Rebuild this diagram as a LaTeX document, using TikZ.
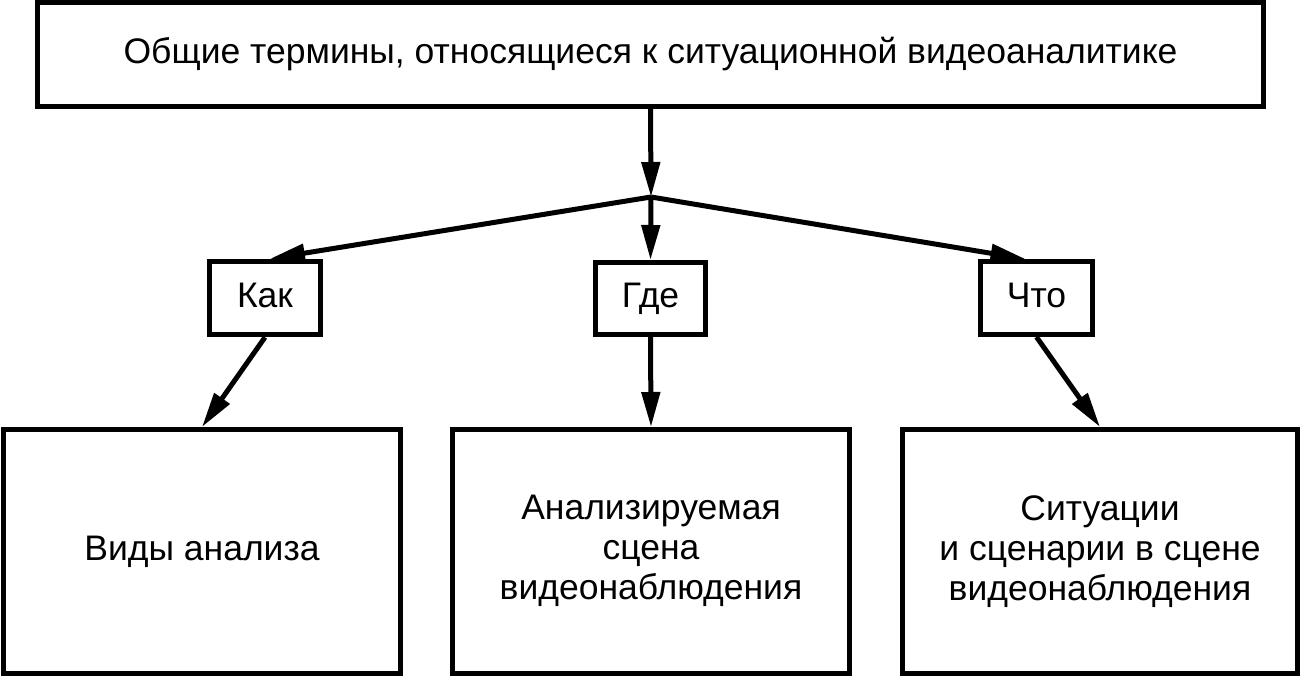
\documentclass[tikz,border=0pt]{standalone}
\usepackage{fontspec}
\setmainfont{Liberation Sans}
\usetikzlibrary{arrows.meta,calc}
\begin{document}
\begin{tikzpicture}[x=1pt,y=-1pt,
  box/.style={draw=black,line width=5pt,rectangle,inner sep=0pt,fill=white},
  arr/.style={line width=5pt,-{Triangle[length=35pt,width=18pt]}},
  txt/.style={font=\fontsize{35.5}{40}\selectfont,align=center},
  oneline/.style={txt,text height=25pt,text depth=7pt}]
\useasboundingbox (0,0) rectangle (1301,677);
\fill[white] (0,0) rectangle (1301,677);
\node[box,oneline,minimum width=1226pt,minimum height=104pt] (top) at (650.5,54.5) {Общие термины, относящиеся к ситуационной видеоаналитике};
\node[box,oneline,minimum width=111pt,minimum height=73.5pt] (kak) at (265,298) {Как};
\node[box,oneline,minimum width=110pt,minimum height=72pt] (gde) at (650.5,298.5) {Где};
\node[box,oneline,minimum width=112pt,minimum height=73pt] (chto) at (1036.5,298) {Что};
\node[box,oneline,minimum width=397pt,minimum height=243.5pt] (bl) at (202,551.25) {Виды анализа};
\node[box,txt,minimum width=397pt,minimum height=243.5pt] (bm) at (651,551.25) {Анализируемая\\сцена\\видеонаблюдения};
\node[box,txt,minimum width=395pt,minimum height=243.5pt] (br) at (1100,551.25) {Ситуации\\и сценарии в сцене\\видеонаблюдения};
\coordinate (J) at (651,197);
\draw[arr] (top.south) -- (J);
\draw[arr] (J) -- ($(kak.north)+(5,0)$);
\draw[arr] (J) -- (gde.north);
\draw[arr] (J) -- ($(chto.north)+(-11,0)$);
\draw[arr] (kak.south) -- (bl.north);
\draw[arr] (gde.south) -- (bm.north);
\draw[arr] (chto.south) -- (br.north);
\end{tikzpicture}
\end{document}
